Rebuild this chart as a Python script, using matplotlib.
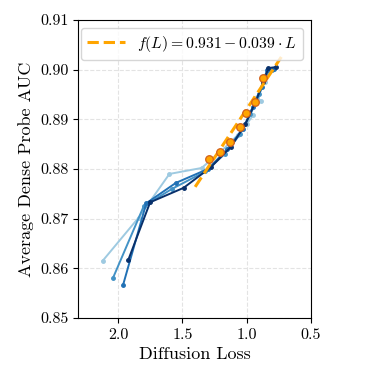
import matplotlib
matplotlib.use("Agg")
import matplotlib.pyplot as plt

plt.rcParams["font.family"] = "serif"
plt.rcParams["font.serif"] = ["cmr10", "DejaVu Serif"]
plt.rcParams["mathtext.fontset"] = "cm"
plt.rcParams["axes.formatter.use_mathtext"] = True

# Diffusion loss vs. probe AUC, one curve per run
light_x = [2.12, 1.84, 1.60, 1.35, 1.20, 1.07, 1.00, 0.95, 0.98, 0.89, 0.92, 0.86]
light_y = [0.8615, 0.8702, 0.8790, 0.8802, 0.8835, 0.8868, 0.8890, 0.8908, 0.8915, 0.8937, 0.8945, 0.8975]
mid_x = [2.04, 1.80, 1.58, 1.32, 1.17, 1.05, 0.97, 0.90, 0.85, 0.80]
mid_y = [0.8580, 0.8725, 0.8760, 0.8795, 0.8830, 0.8870, 0.8910, 0.8950, 0.8990, 0.9000]
blue_x = [1.96, 1.78, 1.55, 1.30, 1.15, 1.03, 0.95, 0.88, 0.84, 0.79]
blue_y = [0.8567, 0.8731, 0.8772, 0.8800, 0.8840, 0.8880, 0.8925, 0.8965, 0.9000, 0.9002]
navy_x = [1.92, 1.75, 1.49, 1.28, 1.12, 1.01, 0.93, 0.87, 0.83, 0.77]
navy_y = [0.8617, 0.8733, 0.8762, 0.8803, 0.8845, 0.8890, 0.8935, 0.8975, 0.9003, 0.9005]

# averaged points and linear fit
avg_x = [1.295, 1.204, 1.126, 1.049, 1.008, 0.936, 0.876]
avg_y = [0.8820, 0.8835, 0.8855, 0.8885, 0.8912, 0.8935, 0.8982]
fit_a = 0.931
fit_b = 0.039
fit_range = [1.40, 0.73]

fig = plt.figure(figsize=(3.81, 3.81), dpi=100)
ax = fig.add_axes([0.205, 0.165, 0.611, 0.783])

series = [
    (light_x, light_y, "#9ecae1"),
    (mid_x, mid_y, "#4292c6"),
    (blue_x, blue_y, "#2171b5"),
    (navy_x, navy_y, "#08306b"),
]
for xs, ys, c in series:
    ax.plot(xs, ys, color=c, marker="o", markersize=2.5, linewidth=1.4)

fx = fit_range
fy = [fit_a - fit_b * v for v in fx]
ax.plot(fx, fy, color="orange", linestyle="--", linewidth=2.2,
        label=r"$f(L) = 0.931 - 0.039 \cdot L$", zorder=3)
ax.scatter(avg_x, avg_y, s=30, color="orange", edgecolor="#d2601a",
           linewidth=0.9, zorder=4)

ax.set_xlim(2.31, 0.5)
ax.set_ylim(0.85, 0.91)
ax.set_xticks([2.0, 1.5, 1.0, 0.5])
ax.set_yticks([0.85, 0.86, 0.87, 0.88, 0.89, 0.90, 0.91])
ax.set_xticklabels(["2.0", "1.5", "1.0", "0.5"])
ax.set_yticklabels(["0.85", "0.86", "0.87", "0.88", "0.89", "0.90", "0.91"])
ax.tick_params(labelsize=11.5)
ax.set_xlabel("Diffusion Loss", fontsize=13)
ax.set_ylabel("Average Dense Probe AUC", fontsize=13)
ax.grid(True, linestyle="--", color="#e3e3e3", linewidth=0.8)
ax.legend(loc="upper right", fontsize=11.3, handlelength=2.4)

fig.savefig("out.png", dpi=100)
